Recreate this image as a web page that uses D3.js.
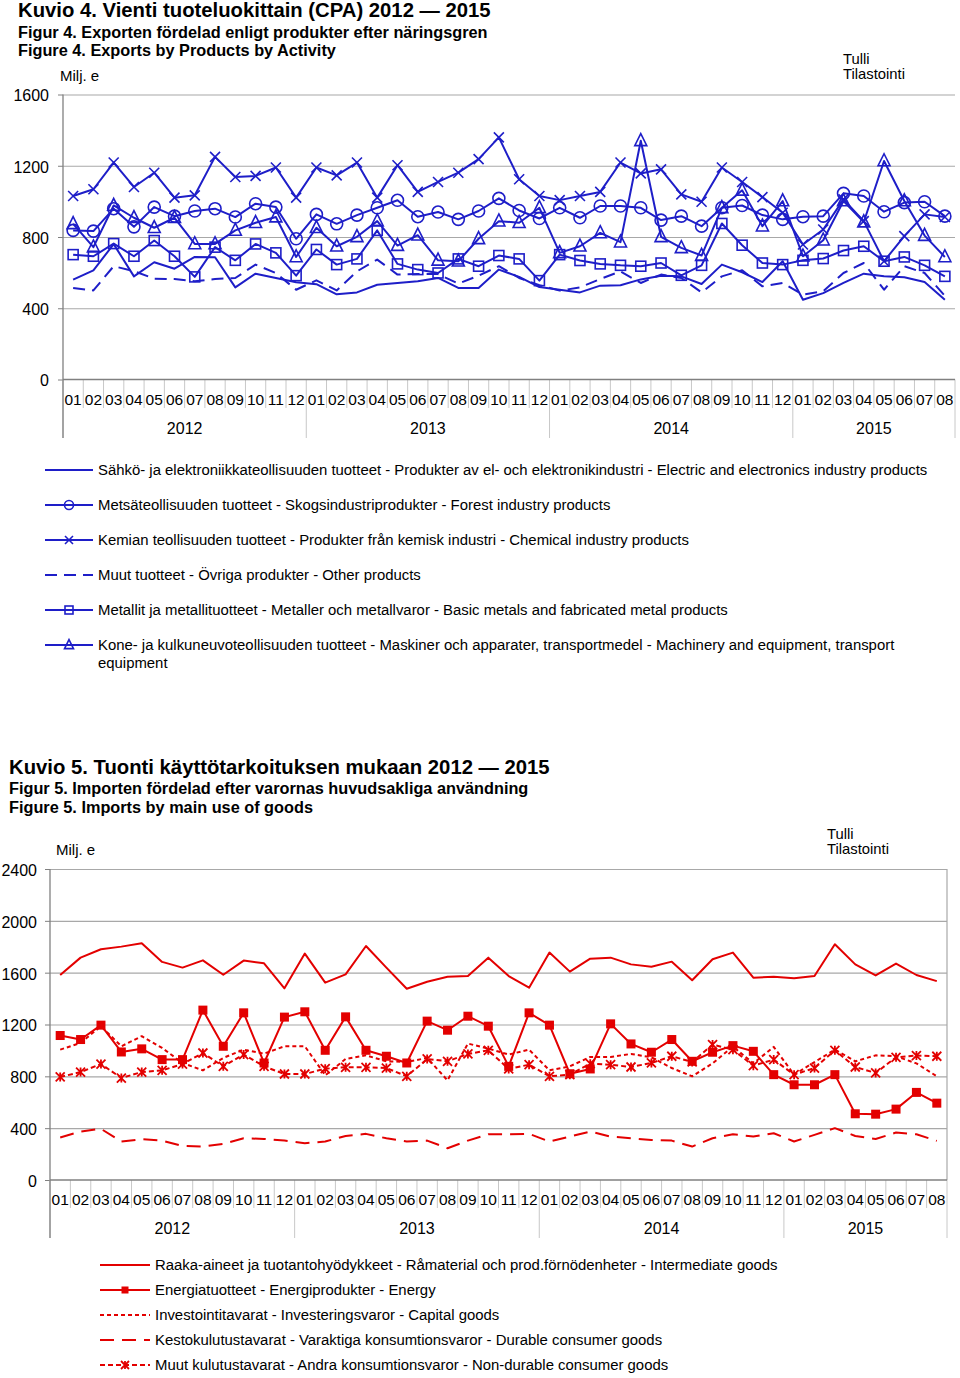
<!DOCTYPE html>
<html>
<head>
<meta charset="utf-8">
<script src="https://cdn.jsdelivr.net/npm/d3@7"></script>
<style>
body { margin: 0; background: #fff; }
svg { display: block; font-family: "Liberation Sans", Arial, sans-serif; }
</style>
</head>
<body>
<svg id="page" width="960" height="1378"></svg>
<script>
// tick labels
const monthLabels = ["01", "02", "03", "04", "05", "06", "07", "08", "09", "10", "11", "12"];
const years = ["2012", "2013", "2014", "2015"];
const monthsInYear = [12, 12, 12, 8];

// Kuvio 4 - exports, Milj. e
const sahko = [561, 613, 760, 579, 658, 622, 688, 686, 517, 594, 570, 546, 535, 478, 489, 532, 542, 551, 570, 514, 514, 617, 576, 519, 504, 489, 527, 529, 562, 583, 579, 536, 645, 602, 547, 664, 448, 485, 542, 594, 579, 574, 547, 448];
const metsa = [837, 833, 959, 857, 968, 917, 946, 959, 912, 987, 968, 790, 927, 874, 923, 964, 1006, 914, 940, 899, 946, 1017, 949, 904, 964, 908, 974, 974, 964, 895, 917, 861, 964, 977, 923, 899, 914, 917, 1045, 1030, 942, 993, 998, 917];
const kemia = [1030, 1068, 1218, 1081, 1161, 1021, 1034, 1250, 1137, 1143, 1190, 1021, 1190, 1146, 1218, 1021, 1203, 1053, 1109, 1161, 1237, 1359, 1124, 1030, 1007, 1030, 1053, 1218, 1157, 1180, 1039, 998, 1190, 1109, 1024, 936, 758, 842, 1011, 889, 664, 805, 927, 912];
const muut = [514, 500, 636, 608, 566, 564, 551, 564, 570, 645, 598, 504, 557, 500, 607, 673, 589, 592, 592, 538, 583, 636, 570, 529, 499, 517, 564, 607, 542, 589, 570, 489, 579, 613, 523, 542, 476, 495, 598, 654, 504, 636, 598, 470];
const metalli = [701, 692, 763, 692, 780, 692, 576, 743, 669, 761, 711, 583, 730, 645, 677, 837, 649, 617, 598, 677, 636, 696, 677, 555, 701, 668, 649, 641, 636, 654, 585, 641, 876, 754, 654, 645, 669, 679, 724, 748, 664, 688, 641, 579];
const kone = [874, 743, 977, 908, 852, 908, 761, 761, 837, 880, 912, 688, 852, 748, 801, 889, 752, 810, 669, 664, 790, 889, 880, 964, 711, 748, 823, 771, 1340, 801, 739, 696, 964, 1062, 861, 1002, 692, 782, 1002, 884, 1227, 1002, 808, 688];

// Kuvio 5 - imports, Milj. e
const raaka = [1582, 1716, 1781, 1801, 1827, 1683, 1639, 1695, 1584, 1693, 1672, 1479, 1747, 1523, 1587, 1806, 1639, 1476, 1530, 1569, 1574, 1716, 1574, 1484, 1755, 1608, 1708, 1716, 1664, 1646, 1685, 1541, 1703, 1755, 1561, 1569, 1556, 1574, 1819, 1664, 1579, 1670, 1582, 1535];
const energia = [1115, 1084, 1195, 988, 1012, 929, 929, 1311, 1032, 1290, 903, 1257, 1298, 1001, 1259, 1001, 955, 903, 1226, 1156, 1264, 1187, 877, 1290, 1195, 820, 857, 1205, 1050, 986, 1084, 916, 986, 1037, 993, 813, 735, 735, 813, 511, 508, 547, 676, 593];
const investointi = [1006, 1058, 1187, 1032, 1110, 1019, 903, 846, 942, 1006, 975, 1032, 1032, 808, 934, 962, 916, 911, 942, 769, 1053, 1014, 968, 1006, 846, 877, 950, 950, 973, 947, 864, 800, 900, 1030, 900, 1027, 813, 910, 1006, 916, 962, 955, 900, 800];
const kesto = [328, 374, 395, 297, 315, 304, 263, 258, 279, 322, 317, 304, 284, 297, 340, 356, 322, 297, 304, 245, 304, 353, 353, 356, 297, 335, 374, 335, 322, 309, 304, 258, 322, 353, 335, 361, 297, 348, 400, 340, 317, 366, 353, 302];
const muutKulutus = [795, 833, 895, 787, 833, 846, 895, 980, 877, 968, 877, 818, 818, 859, 870, 870, 864, 800, 934, 916, 973, 1001, 857, 890, 800, 813, 898, 890, 872, 903, 955, 911, 1045, 1006, 882, 929, 813, 864, 1001, 872, 826, 947, 960, 955];

const periods = years.flatMap((yr, k) => monthLabels.slice(0, monthsInYear[k]).map(m => yr + "-" + m));

const blue = "#1e1ec8";
const red = "#e30000";
const svg = d3.select("#page");
svg.append("rect").attr("width", 960).attr("height", 1378).attr("fill", "#fff");

function marker(g, type, cx, cy, color, s) {
    if (type === "circle") {
        g.append("circle").attr("cx", cx).attr("cy", cy).attr("r", s / 2)
            .attr("fill", "none").attr("stroke", color).attr("stroke-width", 1.6);
    } else if (type === "square") {
        g.append("rect").attr("x", cx - s / 2).attr("y", cy - s / 2).attr("width", s).attr("height", s)
            .attr("fill", "none").attr("stroke", color).attr("stroke-width", 1.6);
    } else if (type === "fsquare") {
        g.append("rect").attr("x", cx - s / 2).attr("y", cy - s / 2).attr("width", s).attr("height", s)
            .attr("fill", color);
    } else if (type === "triangle") {
        g.append("path").attr("d", `M${cx},${cy - s * 0.6}L${cx + s / 2},${cy + s * 0.4}L${cx - s / 2},${cy + s * 0.4}Z`)
            .attr("fill", "none").attr("stroke", color).attr("stroke-width", 1.6);
    } else if (type === "x") {
        const h = s / 2;
        g.append("path").attr("d", `M${cx - h},${cy - h}L${cx + h},${cy + h}M${cx - h},${cy + h}L${cx + h},${cy - h}`)
            .attr("stroke", color).attr("stroke-width", 1.6);
    } else if (type === "star") {
        const h = s / 2;
        g.append("path").attr("d", `M${cx - h},${cy - h}L${cx + h},${cy + h}M${cx - h},${cy + h}L${cx + h},${cy - h}M${cx},${cy - h}L${cx},${cy + h}`)
            .attr("stroke", color).attr("stroke-width", 1.8);
    }
}

function drawChart(o) {
    const x = d3.scaleBand().domain(periods).range([o.left, o.right]);
    const y = d3.scaleLinear().domain([0, o.max]).range([o.bottom, o.top]);
    const g = svg.append("g");

    // gridlines
    const grid = g.append("g").attr("transform", `translate(${o.left},0)`)
        .call(d3.axisLeft(y).tickValues(o.ticks.filter(t => t > 0)).tickSize(-(o.right - o.left)).tickFormat(""));
    grid.select(".domain").remove();
    grid.selectAll("line").attr("stroke", "#a8a8a8").attr("stroke-width", 1.2);

    if (o.border) {
        g.append("line").attr("x1", o.right).attr("x2", o.right).attr("y1", o.top).attr("y2", o.bottom)
            .attr("stroke", "#a8a8a8").attr("stroke-width", 1.2);
    }

    // y labels
    const yAxis = g.append("g").attr("transform", `translate(${o.left},0)`)
        .call(d3.axisLeft(y).tickValues(o.ticks).tickSize(5).tickPadding(o.labelPad).tickFormat(d3.format("d")));
    yAxis.select(".domain").remove();
    yAxis.attr("font-family", null).attr("font-size", 16);
    yAxis.selectAll("line").attr("stroke", "#808080");
    yAxis.selectAll("text").attr("fill", "#000").attr("dy", "0.4em");

    // category band: month and year separators
    const step = x.step();
    const bounds = d3.range(periods.length + 1);
    const yearStarts = [0];
    monthsInYear.forEach((n, k) => yearStarts.push(yearStarts[k] + n));
    g.selectAll(".sep").data(bounds).join("line")
        .attr("x1", i => o.left + i * step).attr("x2", i => o.left + i * step)
        .attr("y1", o.bottom)
        .attr("y2", i => yearStarts.includes(i) ? o.yearBottom : o.monthBottom)
        .attr("stroke", "#c8c8c8").attr("stroke-width", 1);

    g.append("line").attr("x1", o.left).attr("x2", o.left).attr("y1", o.top).attr("y2", o.yearBottom)
        .attr("stroke", "#808080").attr("stroke-width", 1.3);
    g.append("line").attr("x1", o.left).attr("x2", o.right).attr("y1", y(0)).attr("y2", y(0))
        .attr("stroke", "#808080").attr("stroke-width", 1.5);

    g.selectAll(".month").data(periods).join("text")
        .attr("x", p => x(p) + x.bandwidth() / 2).attr("y", o.monthY)
        .attr("text-anchor", "middle").attr("font-size", 15.5)
        .text(p => p.slice(5));
    g.selectAll(".year").data(years).join("text")
        .attr("x", (yr, k) => o.left + (yearStarts[k] + monthsInYear[k] / 2) * step).attr("y", o.yearY)
        .attr("text-anchor", "middle").attr("font-size", 16)
        .text(yr => yr);

    // series
    const line = d3.line().x((d, i) => x(periods[i]) + x.bandwidth() / 2).y(d => y(d));
    o.series.forEach(s => {
        g.append("path").attr("d", line(s.values)).attr("fill", "none")
            .attr("stroke", o.color).attr("stroke-width", 2)
            .attr("stroke-dasharray", s.dash || null)
            .attr("stroke-linejoin", "round");
        if (s.marker) {
            const mg = g.append("g");
            s.values.forEach((v, i) => marker(mg, s.marker, x(periods[i]) + x.bandwidth() / 2, y(v), o.color, s.size));
        }
    });

    // legend
    o.series.forEach((s, k) => {
        const ly = o.legendY + k * o.legendStep;
        g.append("line").attr("x1", o.legendX).attr("x2", o.legendX + o.legendLen).attr("y1", ly).attr("y2", ly)
            .attr("stroke", o.color).attr("stroke-width", 2).attr("stroke-dasharray", s.dash || null);
        if (s.marker) marker(g, s.marker, o.legendX + o.legendLen / 2, ly, o.color, s.legendSize || s.size * 0.8);
        const t = g.append("text").attr("x", o.legendX + o.legendLen + 5).attr("y", ly + 5).attr("font-size", 14.9);
        s.label.forEach((l, j) => t.append("tspan").attr("x", o.legendX + o.legendLen + 5).attr("dy", j ? 17.5 : 0).text(l));
    });
}

function header(x0, lines, milj, tulli) {
    svg.append("text").attr("x", x0).attr("y", lines[0].y).attr("font-size", 20.3).attr("font-weight", "bold").text(lines[0].t);
    lines.slice(1).forEach(l => svg.append("text").attr("x", x0).attr("y", l.y).attr("font-size", 16.3).attr("font-weight", "bold").text(l.t));
    svg.append("text").attr("x", milj[0]).attr("y", milj[1]).attr("font-size", 15).text("Milj. e");
    svg.append("text").attr("x", tulli[0]).attr("y", tulli[1]).attr("font-size", 14.8).text("Tulli");
    svg.append("text").attr("x", tulli[0]).attr("y", tulli[1] + 15).attr("font-size", 14.8).text("Tilastointi");
}

header(18, [
    { t: "Kuvio 4. Vienti tuoteluokittain (CPA) 2012 \u2014 2015", y: 17 },
    { t: "Figur 4. Exporten fördelad enligt produkter efter näringsgren", y: 38 },
    { t: "Figure 4. Exports by Products by Activity", y: 56 }
], [60, 81], [843, 64]);

drawChart({
    left: 63, right: 955, top: 94.5, bottom: 379.5, max: 1600, ticks: [0, 400, 800, 1200, 1600],
    labelPad: 9, monthBottom: 408, yearBottom: 438, monthY: 405, yearY: 434,
    color: blue, border: false,
    legendX: 45, legendLen: 48, legendY: 470, legendStep: 35,
    series: [
        { values: sahko, label: ["Sähkö- ja elektroniikkateollisuuden tuotteet - Produkter av el- och elektronikindustri - Electric and electronics industry products"] },
        { values: metsa, marker: "circle", size: 12, legendSize: 9, label: ["Metsäteollisuuden tuotteet - Skogsindustriprodukter - Forest industry products"] },
        { values: kemia, marker: "x", size: 10, legendSize: 8, label: ["Kemian teollisuuden tuotteet - Produkter från kemisk industri - Chemical industry products"] },
        { values: muut, dash: "12,7", label: ["Muut tuotteet - Övriga produkter - Other products"] },
        { values: metalli, marker: "square", size: 10, legendSize: 8, label: ["Metallit ja metallituotteet - Metaller och metallvaror - Basic metals and fabricated metal products"] },
        { values: kone, marker: "triangle", size: 12, legendSize: 9, label: ["Kone- ja kulkuneuvoteollisuuden tuotteet - Maskiner och apparater, transportmedel -  Machinery and equipment, transport", "equipment"] }
    ]
});

header(9, [
    { t: "Kuvio 5. Tuonti käyttötarkoituksen mukaan 2012 \u2014 2015", y: 774 },
    { t: "Figur 5. Importen fördelad efter varornas huvudsakliga användning", y: 794 },
    { t: "Figure 5. Imports by main use of goods", y: 813 }
], [56, 855], [827, 839]);

drawChart({
    left: 50, right: 947, top: 869, bottom: 1180, max: 2400, ticks: [0, 400, 800, 1200, 1600, 2000, 2400],
    labelPad: 8, monthBottom: 1208, yearBottom: 1238, monthY: 1205, yearY: 1234,
    color: red, border: true,
    legendX: 100, legendLen: 50, legendY: 1265, legendStep: 25,
    series: [
        { values: raaka, label: ["Raaka-aineet ja tuotantohyödykkeet - Råmaterial och prod.förnödenheter - Intermediate goods"] },
        { values: energia, marker: "fsquare", size: 9, legendSize: 7, label: ["Energiatuotteet - Energiprodukter - Energy"] },
        { values: investointi, dash: "4,3", label: ["Investointitavarat - Investeringsvaror - Capital goods"] },
        { values: kesto, dash: "14,8", label: ["Kestokulutustavarat - Varaktiga konsumtionsvaror - Durable consumer goods"] },
        { values: muutKulutus, dash: "5,3", marker: "star", size: 9, legendSize: 8, label: ["Muut kulutustavarat - Andra konsumtionsvaror - Non-durable consumer goods"] }
    ]
});
</script>
</body>
</html>
